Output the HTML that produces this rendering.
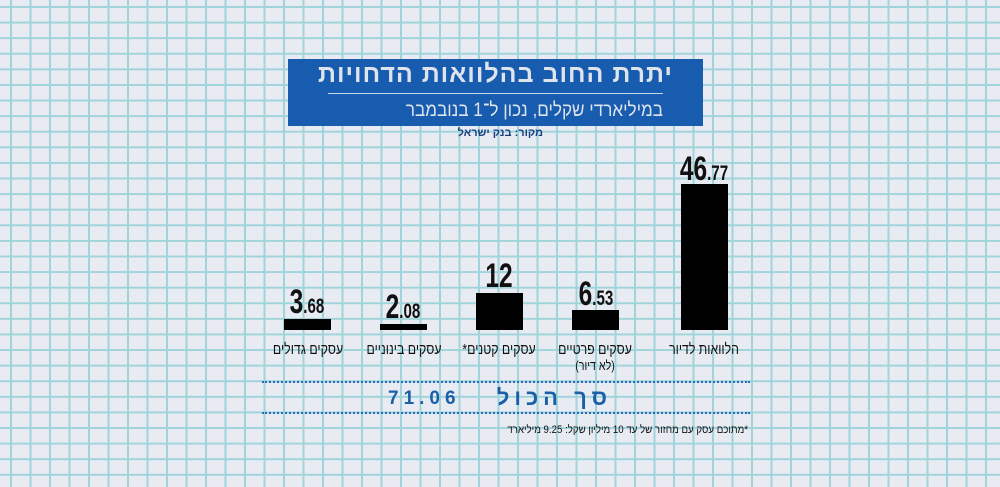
<!DOCTYPE html>
<html><head><meta charset="utf-8"><style>
html,body{margin:0;padding:0}
body{width:1000px;height:487px;position:relative;overflow:hidden;background-color:#e9ebf3;
background-image:linear-gradient(to right,#9fd4da 0,#9fd4da 2px,transparent 2px),linear-gradient(to bottom,#9fd4da 0,#9fd4da 2px,transparent 2px);
background-size:19.5px 15.6px;background-position:10px 0,0 6px;font-family:"Liberation Sans",sans-serif}
.a{position:absolute}
.bar{position:absolute;background:#000;width:47px;bottom:157px}
.v{position:absolute;font-weight:bold;color:#111;font-size:34px;line-height:1;transform:scaleX(0.72);transform-origin:center bottom;white-space:nowrap;text-align:center;width:100px}
.v small{font-size:21px}
.l{position:absolute;font-size:15px;color:#111;direction:rtl;text-align:center;width:120px;transform:scaleX(0.82);white-space:nowrap}
.dot{position:absolute;left:262px;width:488px;border-top:2px dotted #2a6ab8}
</style></head><body>
<div class="a" style="left:288px;top:59px;width:415px;height:67px;background:#175cae"></div>
<div class="a" style="left:288px;top:60px;width:415px;text-align:center;color:#dfe3ec;font-weight:bold;font-size:25px;direction:rtl;letter-spacing:1px">יתרת החוב בהלוואות הדחויות</div>
<div class="a" style="left:328px;top:93px;width:335px;height:1px;background:#c9d6ec"></div>
<div class="a" style="left:340px;top:100px;width:323px;text-align:right;color:#dfe3ec;font-size:19px;direction:rtl;transform:scaleX(0.9);transform-origin:right;white-space:nowrap">במיליארדי שקלים, נכון ל־1 בנובמבר</div>
<div class="a" style="left:440px;top:127px;width:103px;text-align:right;color:#1a3f80;font-size:11px;font-weight:bold;direction:rtl;white-space:nowrap">מקור: בנק ישראל</div>

<div class="bar" style="left:284px;height:11px"></div>
<div class="bar" style="left:380px;height:6px"></div>
<div class="bar" style="left:476px;height:37px"></div>
<div class="bar" style="left:572px;height:20px"></div>
<div class="bar" style="left:681px;height:146px"></div>

<div class="v" style="left:257px;top:285px">3<small>.68</small></div>
<div class="v" style="left:353px;top:290px">2<small>.08</small></div>
<div class="v" style="left:449px;top:259px">12</div>
<div class="v" style="left:546px;top:277px">6<small>.53</small></div>
<div class="v" style="left:654px;top:152px">46<small>.77</small></div>

<div class="l" style="left:248px;top:341px">עסקים גדולים</div>
<div class="l" style="left:344px;top:341px">עסקים בינוניים</div>
<div class="l" style="left:439px;top:341px">עסקים קטנים*</div>
<div class="l" style="left:535px;top:341px">עסקים פרטיים</div>
<div class="l" style="left:535px;top:358px;font-size:13px">(לא דיור)</div>
<div class="l" style="left:644px;top:341px">הלוואות לדיור</div>

<div class="dot" style="top:381px"></div>
<div class="dot" style="top:412px"></div>
<div class="a" style="left:470px;top:385px;width:142px;text-align:right;direction:rtl;color:#1a5fa8;font-size:22px;letter-spacing:5px;font-weight:bold;white-space:nowrap">סך הכול</div>
<div class="a" style="left:388px;top:388px;color:#1a5fa8;font-size:19px;letter-spacing:5px;font-weight:bold;white-space:nowrap">71.06</div>
<div class="a" style="left:450px;top:424px;width:298px;text-align:right;direction:rtl;font-size:11px;color:#111;transform:scaleX(0.88);transform-origin:right;white-space:nowrap">*מתוכם עסק עם מחזור של עד 10 מיליון שקל: 9.25 מיליארד</div>
</body></html>
